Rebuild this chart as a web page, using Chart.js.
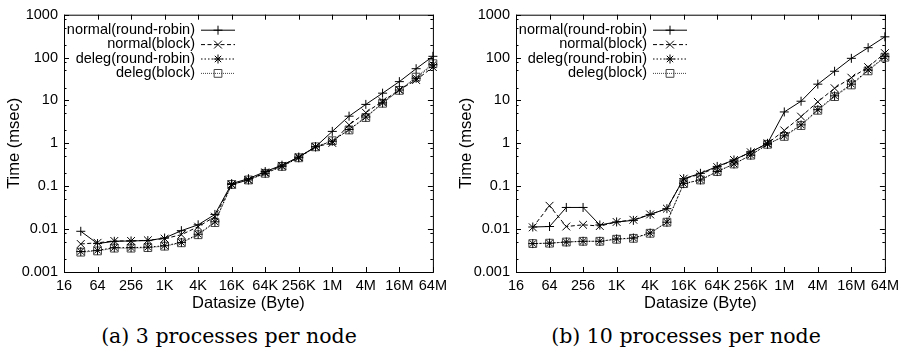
<!DOCTYPE html>
<html>
<head>
<meta charset="utf-8">
<script src="https://cdn.jsdelivr.net/npm/chart.js@4.4.0/dist/chart.umd.min.js"></script>
<style>
body { margin: 0; background: #fff; }
#wrap { position: relative; width: 904px; height: 354px; }
.panel { position: absolute; top: 0; width: 452px; height: 320px; }
.caption { position: absolute; font-family: "DejaVu Serif", serif; font-size: 20.5px; white-space: nowrap; transform: translate(-50%, -50%); color: #000; }
</style>
</head>
<body>
<div id="wrap">
  <div class="panel" style="left:0"><canvas id="chartA"></canvas></div>
  <div class="panel" style="left:452px"><canvas id="chartB"></canvas></div>
  <div class="caption" style="left:229px;top:336px">(a) 3 processes per node</div>
  <div class="caption" style="left:686px;top:336px">(b) 10 processes per node</div>
</div>
<script>
// data sizes in bytes, 32 .. 64M
const dataSizes = [32, 64, 128, 256, 512, 1024, 2048, 4096, 8192, 16384, 32768, 65536,
    131072, 262144, 524288, 1048576, 2097152, 4194304, 8388608, 16777216, 33554432, 67108864];

const xTickValues = [16, 64, 256, 1024, 4096, 16384, 65536, 262144, 1048576, 4194304, 16777216, 67108864];
const xTickLabels = ['16', '64', '256', '1K', '4K', '16K', '64K', '256K', '1M', '4M', '16M', '64M'];
const yTickValues = [0.001, 0.01, 0.1, 1, 10, 100, 1000];
const yTickLabels = ['0.001', '0.01', '0.1', '1', '10', '100', '1000'];

const seriesNames = ['normal(round-robin)', 'normal(block)', 'deleg(round-robin)', 'deleg(block)'];

// (a) 3 processes per node, time in msec
const aNormalRR = [0.0089, 0.0046, 0.0052, 0.0053, 0.0054, 0.0062, 0.0092, 0.0126, 0.022, 0.115, 0.15,
    0.22, 0.31, 0.48, 0.83, 1.9, 4.3, 8.1, 14.8, 27.5, 55, 107];
const aNormalBlock = [0.0045, 0.0048, 0.0053, 0.0053, 0.0055, 0.006, 0.0074, 0.0114, 0.0195, 0.11, 0.14,
    0.21, 0.30, 0.48, 0.83, 1.02, 2.7, 5.2, 9.6, 17.7, 30, 60];
const aDelegRR = [0.0030, 0.0032, 0.0037, 0.0037, 0.0038, 0.0041, 0.0049, 0.0076, 0.0148, 0.11, 0.14,
    0.2, 0.29, 0.46, 0.83, 1.12, 2.1, 4.1, 8.8, 17.5, 33, 68];
const aDelegBlock = [0.0029, 0.0031, 0.0036, 0.0036, 0.0037, 0.0040, 0.0048, 0.0074, 0.0142, 0.11, 0.14,
    0.2, 0.29, 0.46, 0.83, 1.15, 2.05, 4.0, 8.6, 17.2, 35, 72];

// (b) 10 processes per node
const bNormalRR = [0.0112, 0.0115, 0.032, 0.032, 0.0125, 0.0147, 0.016, 0.022, 0.030, 0.15, 0.20,
    0.29, 0.41, 0.63, 1.0, 5.4, 9.6, 24, 48, 96, 170, 305];
const bNormalBlock = [0.011, 0.035, 0.0115, 0.0126, 0.0118, 0.0147, 0.0165, 0.022, 0.030, 0.15, 0.19,
    0.28, 0.41, 0.62, 1.0, 2.0, 4.2, 9.3, 19.3, 34, 60, 127];
const bDelegRR = [0.0046, 0.0047, 0.0050, 0.0052, 0.0052, 0.0059, 0.0062, 0.0081, 0.0145, 0.115, 0.14,
    0.22, 0.33, 0.53, 0.95, 1.5, 2.7, 6.1, 12.8, 24, 51, 105];
const bDelegBlock = [0.0046, 0.0047, 0.0050, 0.0052, 0.0052, 0.0058, 0.0061, 0.0080, 0.0145, 0.115, 0.14,
    0.22, 0.33, 0.53, 0.95, 1.45, 2.6, 5.9, 12.3, 23, 49, 102];

const seriesStyles = [
    { pointStyle: 'cross', pointRadius: 4.5, borderDash: [], borderColor: '#000' },
    { pointStyle: 'crossRot', pointRadius: 5.5, borderDash: [4, 2.5], borderColor: '#000' },
    { pointStyle: 'star', pointRadius: 4.5, borderDash: [1.5, 2], borderColor: '#000' },
    { pointStyle: 'rect', pointRadius: 5.5, borderDash: [1, 1], borderColor: '#444' }
];

const sansFont = '"Liberation Sans", Arial, sans-serif';

function makeDatasets(seriesList) {
    return seriesList.map((vals, i) => ({
        label: seriesNames[i],
        data: dataSizes.map((x, j) => ({ x: x, y: vals[j] })),
        borderColor: seriesStyles[i].borderColor,
        borderWidth: 1,
        borderDash: seriesStyles[i].borderDash,
        pointStyle: seriesStyles[i].pointStyle,
        pointRadius: seriesStyles[i].pointRadius,
        pointBorderWidth: 1,
        pointBorderColor: seriesStyles[i].borderColor,
        pointBackgroundColor: 'rgba(0,0,0,0)',
        fill: false,
        tension: 0,
        clip: false
    }));
}

/* frame with inward ticks on all sides, plus gnuplot-like key */
const framePlugin = {
    id: 'frame',
    afterDraw(chart) {
        const { ctx, chartArea: a, scales: { x, y } } = chart;
        ctx.save();
        ctx.strokeStyle = '#000';
        ctx.lineWidth = 1;
        ctx.setLineDash([]);
        ctx.strokeRect(a.left + 0.5, a.top + 0.5, a.right - a.left, a.bottom - a.top);
        ctx.beginPath();
        xTickValues.forEach(v => {
            const px = Math.round(x.getPixelForValue(v)) + 0.5;
            ctx.moveTo(px, a.bottom); ctx.lineTo(px, a.bottom - 5);
            ctx.moveTo(px, a.top); ctx.lineTo(px, a.top + 5);
        });
        yTickValues.forEach((v, i) => {
            const py = Math.round(y.getPixelForValue(v)) + 0.5;
            ctx.moveTo(a.left, py); ctx.lineTo(a.left + 5, py);
            ctx.moveTo(a.right, py); ctx.lineTo(a.right - 5, py);
            if (i < yTickValues.length - 1) {
                [2, 5, 8].forEach(m => {
                    const pm = Math.round(y.getPixelForValue(v * m)) + 0.5;
                    ctx.moveTo(a.left, pm); ctx.lineTo(a.left + 2.5, pm);
                    ctx.moveTo(a.right, pm); ctx.lineTo(a.right - 2.5, pm);
                });
            }
        });
        ctx.stroke();

        ctx.font = '14.5px ' + sansFont;
        ctx.textAlign = 'right';
        ctx.textBaseline = 'middle';
        chart.data.datasets.forEach((ds, i) => {
            const ly = a.top + 15 + i * 14.4;
            const tx = a.left + 131;
            ctx.fillStyle = '#000';
            ctx.fillText(ds.label, tx, ly);
            ctx.strokeStyle = ds.borderColor;
            ctx.setLineDash(ds.borderDash);
            ctx.beginPath();
            ctx.moveTo(tx + 6, ly + 0.5);
            ctx.lineTo(tx + 40, ly + 0.5);
            ctx.stroke();
            ctx.setLineDash([]);
            ctx.fillStyle = 'rgba(0,0,0,0)';
            Chart.helpers.drawPoint(ctx, {
                pointStyle: ds.pointStyle, radius: ds.pointRadius, borderWidth: 1, rotation: 0
            }, tx + 23, ly + 0.5);
        });
        ctx.restore();
    }
};

function makeOptions() {
    return {
        responsive: true,
        maintainAspectRatio: false,
        animation: false,
        layout: { padding: { top: 8, right: 18, left: 0, bottom: 0 } },
        plugins: { legend: { display: false }, tooltip: { enabled: false } },
        scales: {
            x: {
                type: 'logarithmic',
                min: 16,
                max: 67108864,
                afterBuildTicks: s => { s.ticks = xTickValues.map(v => ({ value: v })); },
                afterFit: s => { s.height = 48; },
                grid: { display: false, drawTicks: false },
                border: { display: false },
                ticks: {
                    autoSkip: false, maxRotation: 0, padding: 5, color: '#000',
                    font: { family: sansFont, size: 14.5 },
                    callback: (v, i) => xTickLabels[i]
                },
                title: {
                    display: true, text: 'Datasize (Byte)', color: '#000',
                    font: { family: sansFont, size: 16.5 }, padding: { top: 0, bottom: 7 }
                }
            },
            y: {
                type: 'logarithmic',
                min: 0.001,
                max: 1000,
                afterBuildTicks: s => { s.ticks = yTickValues.map(v => ({ value: v })); },
                afterFit: s => { s.width = 64; },
                grid: { display: false, drawTicks: false },
                border: { display: false },
                ticks: {
                    autoSkip: false, padding: 6, color: '#000',
                    font: { family: sansFont, size: 14.5 },
                    callback: (v, i) => yTickLabels[i]
                },
                title: {
                    display: true, text: 'Time (msec)', color: '#000',
                    font: { family: sansFont, size: 16.5 }, padding: { top: 5, bottom: 0 }
                }
            }
        }
    };
}

new Chart(document.getElementById('chartA'), {
    type: 'line',
    data: { datasets: makeDatasets([aNormalRR, aNormalBlock, aDelegRR, aDelegBlock]) },
    options: makeOptions(),
    plugins: [framePlugin]
});

new Chart(document.getElementById('chartB'), {
    type: 'line',
    data: { datasets: makeDatasets([bNormalRR, bNormalBlock, bDelegRR, bDelegBlock]) },
    options: makeOptions(),
    plugins: [framePlugin]
});
</script>
</body>
</html>
